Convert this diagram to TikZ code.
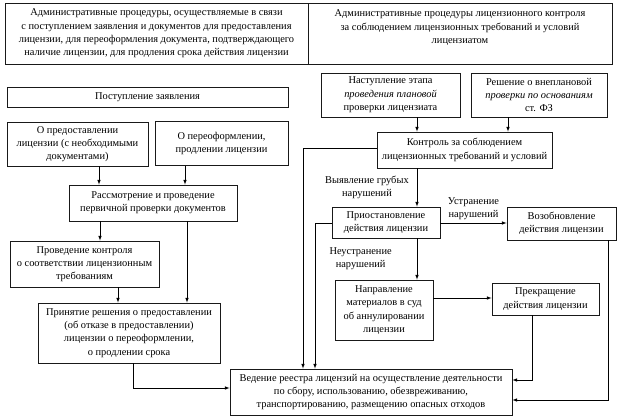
\documentclass[tikz,border=0pt]{standalone}
\usepackage{fontspec}
\setmainfont{Liberation Serif}
\usetikzlibrary{arrows,calc}

\begin{document}
\begin{tikzpicture}[x=1pt, y=-1pt, >=latex, font=\fontsize{10.4}{13.3}\selectfont]
    \tikzstyle{box}=[rectangle, draw=black!90, line width=0.9pt, align=center, inner sep=2pt]
    \tikzstyle{note}=[align=center, inner sep=1pt]
    \tikzstyle{link}=[->, line width=0.6pt]
    \useasboundingbox (0,0) rectangle (621,420);

    \node[box, minimum width=303pt, minimum height=61pt] (procleft) at (156.5,33.5) {Административные процедуры, осуществляемые в связи\\ с поступлением заявления и документов для предоставления\\ лицензии, для переоформления документа, подтверждающего\\ наличие лицензии, для продления срока действия лицензии};
    \node[box, minimum width=304pt, minimum height=61pt] (procright) at (460,33.5) {Административные процедуры лицензионного контроля\\ за соблюдением лицензионных требований и условий\\ лицензиатом\\ \mbox{}};

    \node[box, minimum width=281pt, minimum height=20pt] (receipt) at (147.5,97) {Поступление заявления};
    \node[box, minimum width=141pt, minimum height=44pt] (grant) at (77.5,144) {О предоставлении\\ лицензии (с необходимыми\\ документами)};
    \node[box, minimum width=133pt, minimum height=44pt] (renew) at (221.5,143.5) {О переоформлении,\\ продлении лицензии};
    \node[box, minimum width=168pt, minimum height=36pt] (review) at (153,203) {Рассмотрение и проведение\\ первичной проверки документов};
    \node[box, minimum width=149pt, minimum height=46pt] (check) at (84.5,264) {Проведение контроля\\ о соответствии лицензионным\\ требованиям};
    \node[box, minimum width=182pt, minimum height=60pt] (decision) at (129,333) {Принятие решения о предоставлении\\ (об отказе в предоставлении)\\ лицензии о переоформлении,\\ о продлении срока};
    \node[box, minimum width=282pt, minimum height=46pt] (registry) at (371,392) {Ведение реестра лицензий на осуществление деятельности\\ по сбору, использованию, обезвреживанию,\\ транспортированию, размещению опасных отходов};

    \node[box, minimum width=139pt, minimum height=44pt] (planned) at (390.5,95) {Наступление этапа\\ \textit{проведения плановой}\\ проверки лицензиата};
    \node[box, minimum width=136pt, minimum height=44pt] (unplanned) at (539,95) {Решение о внеплановой\\ \textit{проверки по основаниям}\\ ст. ФЗ};
    \node[box, minimum width=175pt, minimum height=36pt] (control) at (464.5,150) {Контроль за соблюдением\\ лицензионных требований и условий};
    \node[box, minimum width=108pt, minimum height=31pt] (suspend) at (386,222.5) {Приостановление\\ действия лицензии};
    \node[box, minimum width=109pt, minimum height=33pt] (resume) at (561.5,223.5) {Возобновление\\ действия лицензии};
    \node[box, minimum width=98pt, minimum height=60pt] (court) at (384,310) {Направление\\ материалов в суд\\ об аннулировании\\ лицензии};
    \node[box, minimum width=107pt, minimum height=32pt] (terminate) at (545.5,299) {Прекращение\\ действия лицензии};

    \draw[link] (grant.south -| 99,0) -- (review.north -| 99,0);
    \draw[link] (renew.south -| 185,0) -- (review.north -| 185,0);
    \draw[link] (review.south -| 100,0) -- (check.north -| 100,0);
    \draw[link] (review.south -| 187,0) -- (decision.north -| 187,0);
    \draw[link] (check.south -| 118,0) -- (decision.north -| 118,0);
    \draw[link] (decision.south -| 133,0) |- (registry.west |- 0,388);

    \draw[link] (planned.south -| 417,0) -- (control.north -| 417,0);
    \draw[link] (unplanned.south -| 508,0) -- (control.north -| 508,0);
    \draw[link] (control.west |- 0,148) -| (registry.north -| 303,0);
    \draw[link] (control.south -| 417,0) -- node[note, left=7pt] {Выявление грубых\\ нарушений} (suspend.north -| 417,0);
    \draw[link] (suspend.west |- 0,223) -| (registry.north -| 315,0);
    \draw[link] (suspend.east |- 0,223) -- node[note, above=2pt] {Устранение\\ нарушений} (resume.west |- 0,223);
    \draw[link] (suspend.south -| 417,0) -- node[note, left=24pt] {Неустранение\\ нарушений} (court.north -| 417,0);
    \draw[link] (court.east |- 0,298) -- (terminate.west |- 0,298);
    \draw[link] (terminate.south -| 532,0) |- (registry.east |- 0,380);
    \draw[link] (resume.south -| 608,0) |- (registry.east |- 0,400);
\end{tikzpicture}
\end{document}
